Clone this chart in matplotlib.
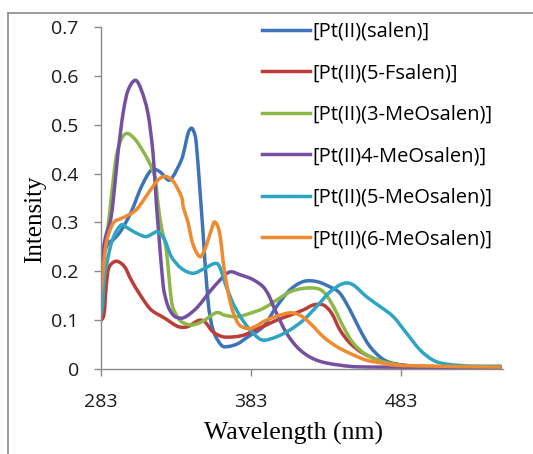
import matplotlib.pyplot as plt
from matplotlib.lines import Line2D
from matplotlib.path import Path
from matplotlib.patches import PathPatch

# absorption spectra
labels = ['[Pt(II)(salen)]', '[Pt(II)(5-Fsalen)]', '[Pt(II)(3-MeOsalen)]',
          '[Pt(II)4-MeOsalen)]', '[Pt(II)(5-MeOsalen)]', '[Pt(II)(6-MeOsalen)]']
colors = ['#3D74B9', '#BC3C38', '#8CB848', '#7650A0', '#2EA6C2', '#F08A30']

salen_x = [283, 287.7, 291, 296.5, 303.2, 309.9, 316.5, 322.1, 327.7, 331, 336.6, 339,
           341, 343.2, 345, 346.5, 348.8, 351, 354.3, 357.7, 363.2, 367.7, 374.3, 381,
           391.2, 400.1, 409, 417.9, 426.8, 435.7, 442.3, 449, 455.7, 462.3, 471, 480,
           490, 510, 550]
salen_y = [0.22, 0.257, 0.264, 0.284, 0.322, 0.373, 0.407, 0.404, 0.387, 0.394, 0.428, 0.455,
           0.482, 0.493, 0.485, 0.462, 0.373, 0.28, 0.141, 0.08, 0.049, 0.046, 0.052, 0.066,
           0.087, 0.128, 0.162, 0.179, 0.179, 0.168, 0.155, 0.121, 0.08, 0.046, 0.02, 0.01,
           0.006, 0.004, 0.003]

fsalen_x = [283, 285, 286.5, 288, 291, 294.3, 298.8, 303.2, 309.9, 316.5, 325.5, 334.3,
            341, 347.7, 352.1, 357.7, 364.3, 372.1, 378.8, 385.5, 391.2, 400.1, 409, 417.9,
            424.5, 431.2, 436.8, 442.3, 449, 457.9, 471, 485, 500, 550]
fsalen_y = [0.1, 0.112, 0.17, 0.205, 0.218, 0.22, 0.209, 0.182, 0.148, 0.121, 0.104, 0.087,
            0.087, 0.099, 0.097, 0.076, 0.066, 0.066, 0.07, 0.08, 0.087, 0.1, 0.11, 0.121,
            0.131, 0.131, 0.114, 0.08, 0.053, 0.032, 0.015, 0.008, 0.005, 0.004]

meo3_x = [283, 285.5, 287.7, 289.9, 293.2, 296.5, 299.9, 303.5, 307.7, 314.3, 318.8, 321,
          323.2, 326.5, 329.9, 332.5, 335.5, 339, 343.2, 347.5, 352.1, 358.8, 362, 365.5,
          374.3, 382.3, 391.2, 400.1, 409, 417.9, 426.8, 432.3, 437.9, 444.5, 451.2, 460,
          471, 485, 500, 550]
meo3_y = [0.2, 0.25, 0.291, 0.353, 0.435, 0.47, 0.482, 0.477, 0.462, 0.428, 0.394, 0.339,
          0.291, 0.244, 0.141, 0.115, 0.1, 0.093, 0.09, 0.093, 0.1, 0.114, 0.115, 0.11,
          0.107, 0.114, 0.124, 0.141, 0.158, 0.165, 0.165, 0.155, 0.128, 0.087, 0.053, 0.029,
          0.015, 0.007, 0.004, 0.003]

meo4_x = [283, 286, 289, 291, 294.3, 297.7, 301, 305.9, 310, 314.3, 317.7, 319.9, 321.5,
          324.3, 326.5, 328.8, 332, 336.6, 341, 347.7, 356.5, 365.5, 369.9, 375.7, 382.3,
          386.5, 391.2, 395, 399, 406.8, 415.7, 426.8, 442, 463, 550]
meo4_y = [0.22, 0.27, 0.3, 0.34, 0.441, 0.523, 0.57, 0.591, 0.57, 0.523, 0.441, 0.339, 0.278,
          0.175, 0.14, 0.121, 0.108, 0.104, 0.11, 0.128, 0.162, 0.192, 0.199, 0.193, 0.186,
          0.179, 0.168, 0.15, 0.121, 0.073, 0.039, 0.018, 0.008, 0.004, 0.003]

meo5_x = [283, 284, 285.4, 288.8, 292, 296.5, 300, 303.2, 308, 313.2, 318, 321, 325.5,
          329.9, 336.6, 344.3, 352.1, 358.8, 362.1, 366.6, 372.1, 378.8, 385.5, 391.2,
          400.1, 409, 417.9, 426.8, 435.7, 444.5, 451.2, 460, 469, 477.9, 486.8, 495.7,
          504.5, 513.5, 530, 550]
meo5_y = [0.11, 0.13, 0.189, 0.244, 0.275, 0.295, 0.29, 0.284, 0.276, 0.271, 0.278, 0.281, 0.264,
          0.23, 0.206, 0.196, 0.206, 0.216, 0.209, 0.168, 0.128, 0.094, 0.07, 0.059,
          0.066, 0.08, 0.1, 0.128, 0.158, 0.175, 0.172, 0.148, 0.128, 0.107, 0.073, 0.039,
          0.018, 0.01, 0.006, 0.006]

meo6_x = [283, 284.5, 286.5, 291, 296.5, 303, 307.7, 314.3, 321, 325.5, 329, 332.1, 336.6,
          338, 341, 344.3, 348.8, 352.1, 356.5, 358.8, 362.1, 365.5, 369.9, 374.3, 378,
          382.3, 387.7, 391.2, 400.1, 409, 415.7, 422.3, 431.2, 440.1, 449, 460, 471, 485, 550]
meo6_y = [0.155, 0.2, 0.257, 0.298, 0.308, 0.318, 0.33, 0.359, 0.387, 0.394, 0.39, 0.38, 0.353,
          0.33, 0.3, 0.255, 0.23, 0.244, 0.284, 0.301, 0.278, 0.196, 0.128, 0.094, 0.085,
          0.083, 0.09, 0.097, 0.108, 0.115, 0.11, 0.094, 0.066, 0.046, 0.032, 0.018, 0.012,
          0.007, 0.004]

series = [(salen_x, salen_y), (fsalen_x, fsalen_y), (meo3_x, meo3_y),
          (meo4_x, meo4_y), (meo5_x, meo5_y), (meo6_x, meo6_y)]

x_ticks = [283, 383, 483]
y_ticks = [0, 0.1, 0.2, 0.3, 0.4, 0.5, 0.6, 0.7]


def smooth_path(xs, ys):
    # Excel-style "smoothed line": bezier segments through the data points
    pts = list(zip(xs, ys))
    n = len(pts)
    verts = [pts[0]]
    codes = [Path.MOVETO]
    for i in range(n - 1):
        p0 = pts[i - 1] if i > 0 else pts[i]
        p1, p2 = pts[i], pts[i + 1]
        p3 = pts[i + 2] if i + 2 < n else pts[i + 1]
        c1 = (p1[0] + (p2[0] - p0[0]) / 6, p1[1] + (p2[1] - p0[1]) / 6)
        c2 = (p2[0] - (p3[0] - p1[0]) / 6, p2[1] - (p3[1] - p1[1]) / 6)
        verts += [c1, c2, p2]
        codes += [Path.CURVE4] * 3
    return Path(verts, codes)


fig = plt.figure(figsize=(5.33, 4.54), dpi=100)
ax = fig.add_axes([0.1895, 0.1872, 0.7542, 0.7533])

handles = []
for (xs, ys), lab, col in zip(series, labels, colors):
    ax.add_patch(PathPatch(smooth_path(xs, ys), facecolor='none', edgecolor=col,
                           linewidth=2.5, joinstyle='round', capstyle='butt'))
    handles.append(Line2D([], [], color=col, linewidth=2.5, label=lab))

ax.set_xlim(283, 551)
ax.set_ylim(0, 0.7)
ax.set_xticks(x_ticks)
ax.set_yticks(y_ticks)
ax.set_yticklabels(['0'] + [f'{v:.1f}' for v in y_ticks[1:]])

for side in ['top', 'right']:
    ax.spines[side].set_visible(False)
for side in ['left', 'bottom']:
    ax.spines[side].set_color('#8a8a8a')
    ax.spines[side].set_linewidth(1.0)

ax.tick_params(direction='out', length=5, width=1.0, color='#8a8a8a',
               labelsize=14, labelcolor='#1a1a1a')
ax.tick_params(axis='y', pad=11)
ax.tick_params(axis='x', pad=12)
for lbl in ax.get_xticklabels() + ax.get_yticklabels():
    lbl.set_family('Open Sans')

ax.set_xlabel('Wavelength (nm)', family='Liberation Serif', fontsize=18.5)
ax.set_ylabel('Intensity', family='Liberation Serif', fontsize=18)
ax.xaxis.set_label_coords(0.479, -0.155)
ax.yaxis.set_label_coords(-0.137, 0.4386)

ax.legend(handles=handles, loc='upper left', bbox_to_anchor=(0.491, 0.952),
          bbox_transform=fig.transFigure, frameon=False,
          prop={'family': 'Open Sans', 'size': 14.5},
          handlelength=2.4, handletextpad=0.12, labelspacing=1.07,
          borderpad=0, borderaxespad=0)

# outer frame lines (top and left only)
fig.add_artist(Line2D([0.015, 1.0], [0.9714, 0.9714], transform=fig.transFigure,
                      color='#8a8a8a', linewidth=1.2))
fig.add_artist(Line2D([0.015, 0.015], [0.0, 0.9714], transform=fig.transFigure,
                      color='#8a8a8a', linewidth=1.2))

fig.savefig('out.png', dpi=100, facecolor='white')
